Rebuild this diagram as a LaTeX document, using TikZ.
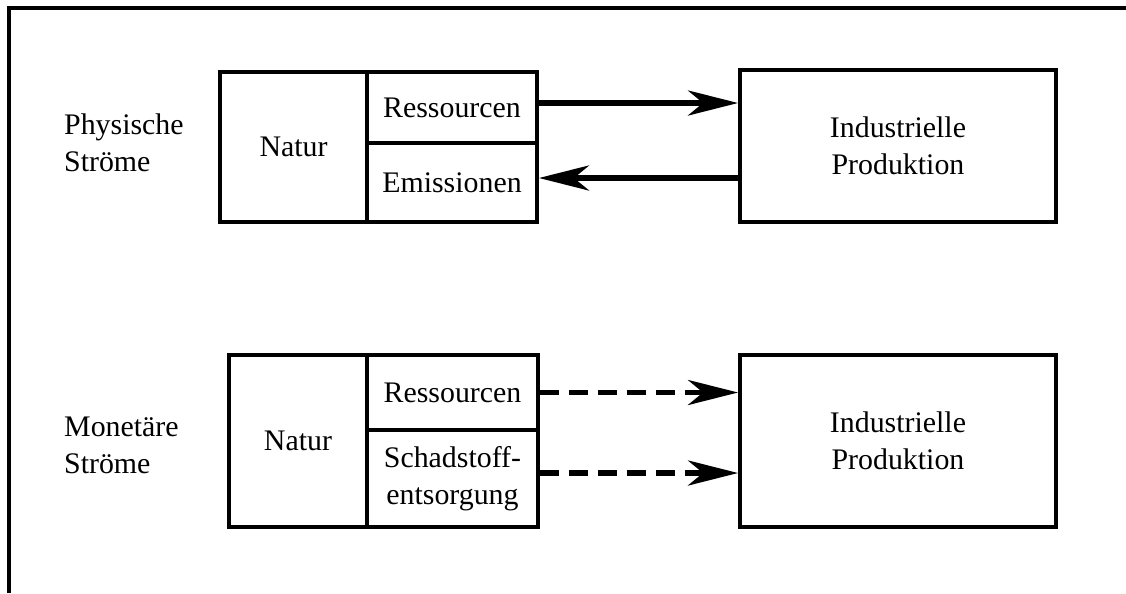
\documentclass[tikz,border=0pt]{standalone}
\usepackage{fontspec}
\setmainfont{Liberation Serif}
\usetikzlibrary{arrows.meta, positioning}
\tikzset{
    cell/.style={draw,line width=2.2pt,inner sep=0pt,align=center,font=\fontsize{17}{21}\selectfont},
    flow/.style={line width=3.4pt,-{Stealth[length=1cm,width=0.5cm,inset=0.3cm]}},
    moneyflow/.style={flow,dash pattern=on 0.38cm off 0.2cm}
}

\begin{document}
\begin{tikzpicture}[x=0.02cm,y=-0.02cm]
    \useasboundingbox (0,0) rectangle (1126,593);
    \draw[line width=2.2pt] (9,593) -- (9,8) -- (1126,8);

    \node[font=\fontsize{17}{21}\selectfont,align=left,anchor=west] (phys) at (58,143) {Physische\\Ströme};
    \node[cell,minimum width=147*0.02cm,minimum height=150*0.02cm] (nat1) at (293.5,147) {Natur};
    \node[cell,minimum width=170*0.02cm,minimum height=71*0.02cm] (res1) at (452,107.5) {Ressourcen};
    \node[cell,minimum width=170*0.02cm,minimum height=79*0.02cm] (emi1) at (452,182.5) {Emissionen};
    \node[cell,minimum width=316*0.02cm,minimum height=152*0.02cm] (ind1) at (898,146) {Industrielle\\Produktion};
    \draw[flow] ([yshift=0.09cm]res1.east) -- ([yshift=0.09cm]res1.east -| ind1.west);
    \draw[flow] ([yshift=0.09cm]emi1.east -| ind1.west) -- ([yshift=0.09cm]emi1.east);

    \node[font=\fontsize{17}{21}\selectfont,align=left,anchor=west] (mon) at (58,445) {Monetäre\\Ströme};
    \node[cell,minimum width=138*0.02cm,minimum height=172*0.02cm] (nat2) at (298,441) {Natur};
    \node[cell,minimum width=171*0.02cm,minimum height=75*0.02cm] (res2) at (452.5,392.5) {Ressourcen};
    \node[cell,minimum width=171*0.02cm,minimum height=97*0.02cm] (sch2) at (452.5,478.5) {Schadstoff-\\entsorgung};
    \node[cell,minimum width=316*0.02cm,minimum height=172*0.02cm] (ind2) at (898,441) {Industrielle\\Produktion};
    \draw[moneyflow] (res2.east) -- (res2.east -| ind2.west);
    \draw[moneyflow] ([yshift=0.11cm]sch2.east) -- ([yshift=0.11cm]sch2.east -| ind2.west);
\end{tikzpicture}
\end{document}
